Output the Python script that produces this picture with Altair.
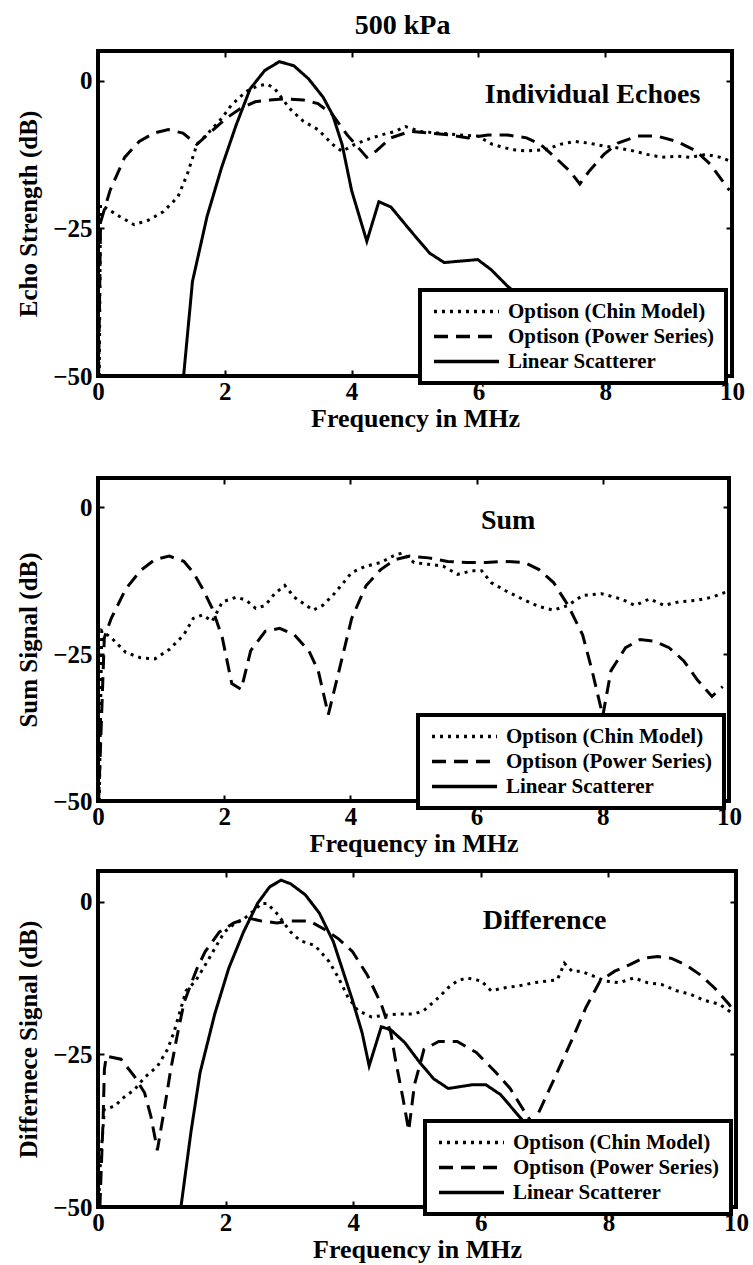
import altair as alt
import pandas as pd

SERIES = ["Optison (Chin Model)", "Optison (Power Series)", "Linear Scatterer"]
DASHES = [[3, 5], [14, 8], [1, 0]]
SERIF = "Liberation Serif"

# ---- Individual echoes -------------------------------------------------
echo_chin_f = [0.02, 0.04, 0.19, 0.34, 0.57, 0.80, 1.03, 1.26, 1.41, 1.56, 1.79, 1.95, 2.10, 2.33,
               2.52, 2.67, 2.79, 3.02, 3.24, 3.47, 3.70, 3.85, 4.05, 4.24, 4.47, 4.69, 4.85, 5.08,
               5.38, 5.69, 5.99, 6.22, 6.53, 6.76, 7.06, 7.29, 7.52, 7.75, 7.98, 8.20, 8.44, 8.66,
               8.90, 9.13, 9.35, 9.58, 9.82, 9.96]
echo_chin_db = [-50, -21, -22, -23, -24.4, -23.6, -22.2, -19.7, -15.8, -10.8, -8.3, -6.4, -4.2, -1.9,
                -0.9, -0.6, -1.4, -4.7, -6.9, -8.3, -10.8, -12, -10.8, -10, -9.2, -8.6, -7.8, -8.6,
                -8.9, -9.2, -9.4, -10.8, -11.7, -11.9, -11.7, -10.8, -10.3, -10.6, -11.1, -11.4,
                -11.9, -12.5, -13, -12.8, -13, -12.5, -13, -13.6]

echo_pow_f = [0.01, 0.04, 0.19, 0.42, 0.65, 0.88, 1.11, 1.34, 1.56, 1.79, 2.02, 2.25, 2.48, 2.71,
              2.94, 3.24, 3.47, 3.70, 3.93, 4.24, 4.39, 4.62, 4.92, 5.23, 5.53, 5.84, 6.15, 6.45,
              6.76, 6.98, 7.21, 7.44, 7.60, 7.75, 7.98, 8.20, 8.51, 8.82, 9.13, 9.43, 9.66, 9.96]
echo_pow_db = [-50, -24, -18.6, -13, -10.3, -8.9, -8.3, -8.9, -10.8, -8.6, -6.4, -4.7, -3.6, -3.3,
               -3.1, -3.3, -3.9, -5.8, -9.2, -13, -11.9, -9.7, -8.6, -8.9, -9.2, -9.7, -9.2, -9.2,
               -9.7, -10.8, -13, -15.3, -17.5, -15.3, -12.5, -10.6, -9.4, -9.4, -10.3, -11.9,
               -14.2, -18.6]

echo_lin_f = [1.35, 1.49, 1.72, 1.95, 2.18, 2.40, 2.63, 2.86, 3.09, 3.32, 3.55, 3.70, 3.85, 4.00,
              4.24, 4.43, 4.62, 4.92, 5.23, 5.46, 5.99, 6.20, 6.45, 6.80, 7.20, 7.80, 8.30]
echo_lin_db = [-50, -34, -23, -14.7, -7.5, -1.4, 1.7, 3.2, 2.5, 0.3, -2.8, -5.8, -10.8, -18.6,
               -27.2, -20.5, -21.4, -25.3, -29.2, -30.8, -30.3, -32, -34.7, -38, -42, -47, -50]

# ---- Sum signal ---------------------------------------------------------
sum_chin_f = [0.02, 0.06, 0.21, 0.44, 0.67, 0.90, 1.13, 1.36, 1.51, 1.66, 1.81, 1.97, 2.19, 2.35,
              2.50, 2.65, 2.80, 2.96, 3.11, 3.26, 3.41, 3.56, 3.72, 3.87, 4.02, 4.25, 4.48, 4.71,
              4.82, 5.01, 5.24, 5.47, 5.70, 5.93, 6.08, 6.23, 6.46, 6.76, 6.99, 7.22, 7.45, 7.68,
              7.98, 8.29, 8.51, 8.74, 8.97, 9.20, 9.50, 9.73, 9.96]
sum_chin_db = [-50, -21, -22.2, -24.7, -25.6, -25.8, -24.2, -21.7, -18.9, -18.3, -19.4, -16.1,
               -15.3, -15.8, -17.2, -16.7, -14.7, -13.3, -15.3, -16.4, -17.5, -16.7, -15, -13.1,
               -11.1, -10, -9.4, -8.1, -7.8, -9.4, -9.7, -10, -11.4, -10.8, -10.8, -12.8, -14.2,
               -15.8, -16.9, -17.5, -16.7, -15, -14.7, -15.6, -16.7, -15.6, -16.7, -16.1, -15.8,
               -15.3, -14.4]

sum_pow_f = [0.01, 0.10, 0.21, 0.44, 0.67, 0.90, 1.13, 1.36, 1.51, 1.66, 1.81, 1.97, 2.12, 2.27,
             2.42, 2.65, 2.88, 3.11, 3.34, 3.49, 3.65, 3.87, 4.02, 4.25, 4.48, 4.71, 4.94, 5.24,
             5.54, 5.85, 6.15, 6.46, 6.76, 6.99, 7.22, 7.45, 7.68, 7.83, 8.00, 8.13, 8.36, 8.59,
             8.82, 9.05, 9.28, 9.50, 9.73, 9.90]
sum_pow_db = [-50, -22.2, -18.9, -13.9, -10.8, -8.9, -8.3, -9.2, -11.1, -13.9, -17.2, -22.2, -30,
              -31, -24.4, -21.1, -20.6, -21.7, -24.4, -27.8, -35.3, -25.6, -18.9, -13.3, -10.6,
              -8.9, -8.3, -8.6, -9.2, -9.4, -9.4, -9.2, -9.4, -10.6, -12.8, -16.7, -21.7, -27.8,
              -35.5, -27.8, -23.9, -22.5, -22.8, -23.9, -26.1, -29.4, -32.2, -30.5]

sum_lin_f = []
sum_lin_db = []

# ---- Difference signal --------------------------------------------------
diff_chin_f = [0.01, 0.03, 0.10, 0.26, 0.41, 0.57, 0.73, 0.93, 1.09, 1.19, 1.38, 1.53, 1.68, 1.83,
               1.98, 2.13, 2.28, 2.43, 2.57, 2.65, 2.80, 3.02, 3.17, 3.40, 3.62, 3.77, 3.92, 4.07,
               4.29, 4.51, 4.74, 4.96, 5.11, 5.34, 5.49, 5.63, 5.78, 6.01, 6.16, 6.38, 6.60, 6.83,
               7.05, 7.20, 7.31, 7.43, 7.57, 7.72, 7.95, 8.17, 8.40, 8.62, 8.84, 9.07, 9.29, 9.51,
               9.74, 9.96]
diff_chin_db = [-50, -44, -34, -33.5, -32, -30.8, -28.8, -27, -24.2, -21.4, -14.6, -13, -10.4, -7.7,
                -5, -3.7, -2.9, -1.6, -0.3, -0.3, -1.9, -5, -6.4, -7.2, -9.8, -12.5, -15.7, -17.8,
                -18.9, -18.6, -18.4, -18.4, -17.8, -15.7, -14.1, -13, -12.5, -13, -14.6, -14.1,
                -13.8, -13.3, -13, -12.8, -10.1, -11.4, -11.4, -12, -13, -13.3, -12.5, -13.3,
                -13.6, -14.6, -15.2, -16.2, -16.8, -18.4]

diff_pow_f = [0.03, 0.05, 0.08, 0.10, 0.13, 0.36, 0.57, 0.73, 0.83, 0.93, 1.04, 1.14, 1.24, 1.35,
              1.45, 1.55, 1.68, 1.90, 2.13, 2.35, 2.57, 2.80, 3.02, 3.32, 3.54, 3.77, 3.99, 4.22,
              4.44, 4.59, 4.66, 4.78, 4.87, 4.96, 5.11, 5.34, 5.63, 5.93, 6.23, 6.46, 6.68, 6.82,
              6.94, 7.20, 7.43, 7.65, 7.87, 8.10, 8.32, 8.54, 8.77, 8.99, 9.22, 9.44, 9.66, 9.89,
              10.0]
diff_pow_db = [-50, -44, -35.7, -27.5, -25.3, -25.8, -28.6, -31.3, -35.2, -40.7, -34, -27.5, -22,
               -16.5, -13.7, -11, -8.2, -5, -3.5, -2.7, -3.2, -3.5, -3.2, -3.2, -4.5, -6.1, -8.2,
               -12, -16.8, -21.5, -25.8, -32.2, -37.5, -30, -24.2, -22.9, -22.9, -24.7, -27.9,
               -30.6, -34.3, -36.5, -33.8, -27.9, -22.6, -17.3, -13, -11.4, -10.4, -9.3, -9, -9.3,
               -10.4, -12, -14.1, -16.8, -18.6]

diff_lin_f = [1.30, 1.46, 1.60, 1.83, 2.05, 2.28, 2.50, 2.69, 2.87, 3.02, 3.25, 3.47, 3.69, 3.84,
              3.99, 4.14, 4.25, 4.44, 4.59, 4.81, 5.04, 5.26, 5.49, 5.86, 6.08, 6.31, 6.53, 7.00,
              7.50, 8.00]
diff_lin_db = [-50, -37.5, -28, -18.4, -10.9, -5, -0.3, 2.4, 3.5, 2.9, 1.1, -1.9, -6.6, -11.4,
               -16.2, -21.5, -26.9, -20.5, -21, -23.1, -26.3, -29, -30.6, -30, -30, -31.6, -34.3,
               -40, -46, -50]

# Panel captions: text, frequency, level
captions = {
    "echo": ("Individual Echoes", 7.8, -2.5),
    "sum": ("Sum", 6.5, -2.4),
    "diff": ("Difference", 7.0, -3.2),
}

# Long horizontal legend sample: a small nominal symbol stretched by a wide path
LEGEND_PATH = "M-6.5,0H6.5"


def frame(series_lists):
    parts = []
    for name, (f, db) in zip(SERIES, series_lists):
        if f:
            parts.append(pd.DataFrame({"f": f, "db": db, "series": name}))
    return pd.concat(parts, ignore_index=True)


def panel(df, caption, ytitle, width, height, legend_xy):
    xs = alt.Scale(domain=[0, 10], nice=False, zero=False)
    ys = alt.Scale(domain=[-50, 5], nice=False, zero=False)
    lines = alt.Chart(df).mark_line(color="black", strokeWidth=3, clip=True).encode(
        x=alt.X("f:Q", scale=xs, axis=alt.Axis(
            orient="bottom", values=[0, 2, 4, 6, 8, 10], format="d", offset=-6, tickSize=6,
            tickWidth=2, labelPadding=3, labelFlush=False, title="Frequency in MHz",
            titleFontSize=26, titlePadding=1)),
        y=alt.Y("db:Q", scale=ys, axis=alt.Axis(
            orient="left", values=[0, -25, -50], format="d", offset=-6, tickSize=6,
            tickWidth=2, labelPadding=6, labelFlush=False, title=ytitle,
            titleFontSize=25, titlePadding=11)),
        strokeDash=alt.StrokeDash(
            "series:N", title=None,
            scale=alt.Scale(domain=SERIES, range=DASHES),
            legend=alt.Legend(
                orient="none", legendX=legend_xy[0], legendY=legend_xy[1],
                fillColor="white", strokeColor="black", padding=11, rowPadding=3,
                symbolType=LEGEND_PATH, symbolSize=100, symbolOffset=25,
                symbolStrokeWidth=3.5, symbolStrokeColor="black",
                labelFont=SERIF, labelFontSize=21, labelFontWeight="bold",
                labelColor="black", labelOffset=31, labelLimit=400)),
    )
    cap = pd.DataFrame({"label": [caption[0]], "f": [caption[1]], "db": [caption[2]]})
    text = alt.Chart(cap).mark_text(
        font=SERIF, fontSize=28, fontWeight="bold", color="black", baseline="middle"
    ).encode(
        x=alt.X("f:Q", scale=xs, axis=alt.Axis(
            orient="top", values=[2, 4, 6, 8], labels=False, offset=-6, tickSize=6,
            tickWidth=2, title=None)),
        y=alt.Y("db:Q", scale=ys, axis=alt.Axis(
            orient="right", values=[0, -25], labels=False, offset=-6, tickSize=6,
            tickWidth=2, title=None)),
        text="label:N",
    )
    return alt.layer(lines, text).resolve_axis(x="independent", y="independent").properties(
        width=width, height=height)


p1 = panel(frame([(echo_chin_f, echo_chin_db), (echo_pow_f, echo_pow_db), (echo_lin_f, echo_lin_db)]),
           captions["echo"], "Echo Strength (dB)", 634, 325, (322, 239))
p2 = panel(frame([(sum_chin_f, sum_chin_db), (sum_pow_f, sum_pow_db), (sum_lin_f, sum_lin_db)]),
           captions["sum"], "Sum Signal (dB)", 631, 323, (320, 237)).properties(
    title=alt.TitleParams(" ", fontSize=20, offset=12))
p3 = panel(frame([(diff_chin_f, diff_chin_db), (diff_pow_f, diff_pow_db), (diff_lin_f, diff_lin_db)]),
           captions["diff"], "Differnece Signal (dB)", 638, 336, (327, 250))

chart = alt.vconcat(p1, p2, p3, spacing=10).resolve_scale(
    x="independent", y="independent", strokeDash="independent"
).properties(
    title=alt.TitleParams("500 kPa", font=SERIF, fontSize=28, fontWeight="bold",
                          color="black", anchor="middle", offset=8, dx=20),
    padding={"left": 14, "top": 12, "right": 0, "bottom": 0},
    background="white",
).configure_view(
    stroke="black", strokeWidth=4
).configure_axis(
    labelFont=SERIF, labelFontSize=25, labelFontWeight="bold", labelColor="black",
    titleFont=SERIF, titleFontWeight="bold", titleColor="black",
    tickColor="black", domain=False, grid=False
).configure_legend(
    strokeWidth=4
)

chart.save("out.html", embed_options={"renderer": "svg", "actions": False})
